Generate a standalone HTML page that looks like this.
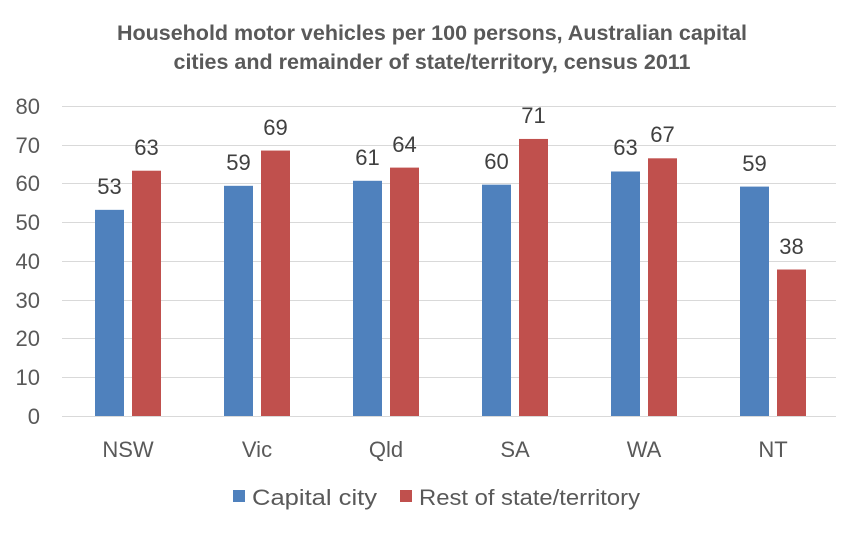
<!DOCTYPE html>
<html><head><style>body{margin:0;background:#fff}svg{display:block;font-family:"Liberation Sans",sans-serif}</style></head><body>
<svg width="864" height="533" xmlns="http://www.w3.org/2000/svg">
<text x="432" y="40" text-anchor="middle" font-size="21.5" font-weight="bold" fill="#595959">Household motor vehicles per 100 persons, Australian capital</text>
<text x="432" y="69" text-anchor="middle" font-size="21.5" font-weight="bold" fill="#595959">cities and remainder of state/territory, census 2011</text>
<g stroke="#d9d9d9" stroke-width="1">
<line x1="62" x2="836" y1="106.5" y2="106.5"/><line x1="62" x2="836" y1="145.5" y2="145.5"/><line x1="62" x2="836" y1="183.5" y2="183.5"/><line x1="62" x2="836" y1="222.5" y2="222.5"/><line x1="62" x2="836" y1="261.5" y2="261.5"/><line x1="62" x2="836" y1="300.5" y2="300.5"/><line x1="62" x2="836" y1="338.5" y2="338.5"/><line x1="62" x2="836" y1="377.5" y2="377.5"/><line x1="62" x2="836" y1="416.5" y2="416.5"/>
</g>
<g font-size="22" fill="#595959" text-anchor="end">
<text x="40" y="114">80</text><text x="40" y="153">70</text><text x="40" y="191">60</text><text x="40" y="230">50</text><text x="40" y="269">40</text><text x="40" y="308">30</text><text x="40" y="346">20</text><text x="40" y="385">10</text><text x="40" y="424">0</text>
</g>
<g fill="#4f81bd">
<rect x="95" y="209.85" width="29" height="206.15"/>
<rect x="224" y="185.82" width="29" height="230.18"/>
<rect x="353" y="180.79" width="29" height="235.21"/>
<rect x="482" y="184.66" width="29" height="231.34"/>
<rect x="611" y="171.49" width="29" height="244.51"/>
<rect x="740" y="186.6" width="29" height="229.4"/>
</g>
<g fill="#c0504d">
<rect x="132" y="170.71" width="29" height="245.29"/>
<rect x="261" y="150.56" width="29" height="265.44"/>
<rect x="390" y="167.61" width="29" height="248.39"/>
<rect x="519" y="138.94" width="29" height="277.06"/>
<rect x="648" y="158.31" width="29" height="257.69"/>
<rect x="777" y="269.52" width="29" height="146.48"/>
</g>
<g font-size="22" fill="#404040" text-anchor="middle">
<text x="109.5" y="194">53</text>
<text x="238.5" y="170">59</text>
<text x="367.5" y="165">61</text>
<text x="496.5" y="169">60</text>
<text x="625.5" y="155">63</text>
<text x="754.5" y="171">59</text>
<text x="146.5" y="155">63</text>
<text x="275.5" y="135">69</text>
<text x="404.5" y="152">64</text>
<text x="533.5" y="123">71</text>
<text x="662.5" y="142">67</text>
<text x="791.5" y="254">38</text>
</g>
<g font-size="22" fill="#595959" text-anchor="middle">
<text x="128" y="457">NSW</text><text x="257" y="457">Vic</text><text x="386" y="457">Qld</text><text x="515" y="457">SA</text><text x="644" y="457">WA</text><text x="773" y="457">NT</text>
</g>
<rect x="233" y="490" width="12" height="12" fill="#4f81bd"/>
<text x="252" y="505" font-size="22" fill="#595959" textLength="125" lengthAdjust="spacingAndGlyphs">Capital city</text>
<rect x="400" y="490" width="12" height="12" fill="#c0504d"/>
<text x="419" y="505" font-size="22" fill="#595959" textLength="221" lengthAdjust="spacingAndGlyphs">Rest of state/territory</text>
</svg>
</body></html>
